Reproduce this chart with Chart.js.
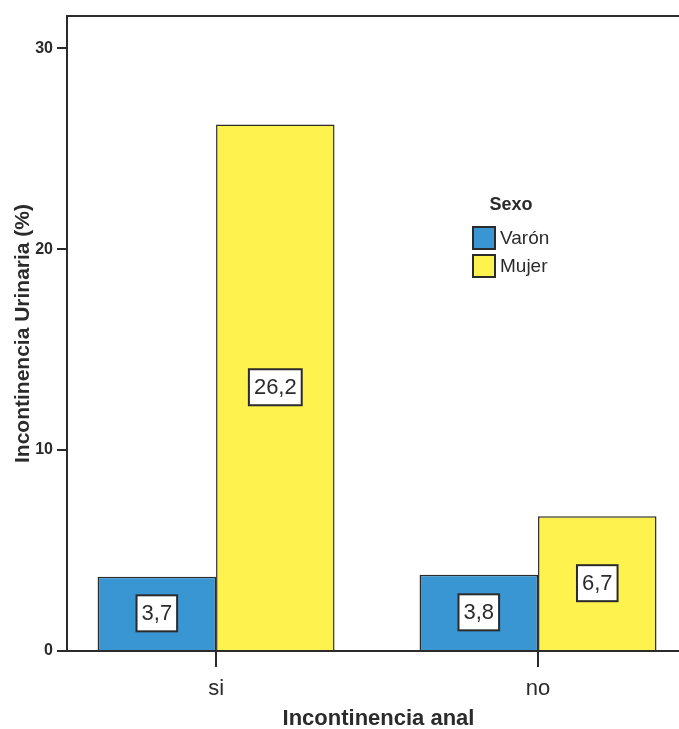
<!DOCTYPE html>
<html>
<head>
<meta charset="utf-8">
<script src="https://cdn.jsdelivr.net/npm/chart.js@4/dist/chart.umd.min.js"></script>
<style>
  html, body { margin: 0; padding: 0; background: #ffffff; overflow: hidden; }
  #wrap { position: absolute; left: 0; top: 0; width: 690px; height: 729px; }
</style>
</head>
<body>
<div id="wrap"><canvas id="c" width="690" height="729"></canvas></div>
<script>
// Incontinencia urinaria (%) por incontinencia anal y sexo
const categories = ['si', 'no'];
const seriesNames = ['Varón', 'Mujer'];
const varon = [3.7, 3.8];
const mujer = [26.2, 6.7];
const yTicks = [0, 10, 20, 30];

const INK = '#2b2b2b';
const FONT = '"Liberation Sans", Arial, sans-serif';

const toPoints = vals => vals.map((v, i) => ({ x: i + 1, y: v }));

// Boxed value labels in the middle of each bar (comma decimal)
const valueBoxes = {
  id: 'valueBoxes',
  afterDatasetsDraw(chart) {
    const ctx = chart.ctx;
    ctx.save();
    ctx.font = '22px ' + FONT;
    ctx.textAlign = 'center';
    ctx.textBaseline = 'middle';
    chart.data.datasets.forEach((ds, di) => {
      const meta = chart.getDatasetMeta(di);
      meta.data.forEach((bar, i) => {
        const txt = ds.data[i].y.toFixed(1).replace('.', ',');
        const cx = bar.x;
        const cy = (bar.y + bar.base) / 2;
        const w = ctx.measureText(txt).width + 10;
        const h = 36;
        ctx.fillStyle = '#ffffff';
        ctx.fillRect(cx - w / 2, cy - h / 2, w, h);
        ctx.lineWidth = 2;
        ctx.strokeStyle = INK;
        ctx.strokeRect(cx - w / 2, cy - h / 2, w, h);
        ctx.fillStyle = INK;
        ctx.fillText(txt, cx, cy + 1);
      });
    });
    ctx.restore();
  }
};

// Top edge of the plot frame
const frameTop = {
  id: 'frameTop',
  afterDraw(chart) {
    const { ctx, chartArea } = chart;
    ctx.save();
    ctx.strokeStyle = INK;
    ctx.lineWidth = 2;
    ctx.beginPath();
    ctx.moveTo(chartArea.left - 1, chartArea.top);
    ctx.lineTo(chartArea.right + 5, chartArea.top);
    ctx.stroke();
    ctx.restore();
  }
};

// Legend block inside the plot: title plus swatches
const sexLegend = {
  id: 'sexLegend',
  afterDraw(chart, args, opts) {
    const ctx = chart.ctx;
    ctx.save();
    ctx.fillStyle = INK;
    ctx.font = 'bold 18px ' + FONT;
    ctx.textAlign = 'center';
    ctx.textBaseline = 'middle';
    ctx.fillText(opts.title, opts.x + 38, opts.y);
    ctx.font = '19px ' + FONT;
    ctx.textAlign = 'left';
    chart.data.datasets.forEach((ds, i) => {
      const sy = opts.y + 22 + i * 28;
      ctx.fillStyle = ds.backgroundColor;
      ctx.fillRect(opts.x, sy, 22, 22);
      ctx.lineWidth = 2;
      ctx.strokeStyle = INK;
      ctx.strokeRect(opts.x, sy, 22, 22);
      ctx.fillStyle = INK;
      ctx.fillText(ds.label, opts.x + 27, sy + 12);
    });
    ctx.restore();
  }
};

new Chart(document.getElementById('c'), {
  type: 'bar',
  data: {
    datasets: [
      { label: seriesNames[0], data: toPoints(varon), backgroundColor: '#3a95d3',
        borderColor: INK, borderWidth: 1.5 },
      { label: seriesNames[1], data: toPoints(mujer), backgroundColor: '#fdf24e',
        borderColor: INK, borderWidth: 1.5 }
    ]
  },
  options: {
    responsive: false,
    animation: false,
    layout: { padding: { top: 16, right: 0, left: 0, bottom: 0 } },
    datasets: { bar: { categoryPercentage: 0.736, barPercentage: 1.0 } },
    plugins: {
      legend: { display: false },
      tooltip: { enabled: false },
      sexLegend: { title: 'Sexo', x: 473, y: 205 }
    },
    scales: {
      x: {
        type: 'linear',
        min: 0.537,
        max: 2.472,
        offset: false,
        afterFit(s) { s.height = 78; },
        afterBuildTicks(s) { s.ticks = categories.map((c, i) => ({ value: i + 1 })); },
        ticks: {
          color: INK,
          font: { family: FONT, size: 22 },
          padding: 9,
          callback: v => categories[v - 1] ?? ''
        },
        grid: { display: true, offset: false, drawOnChartArea: false, tickLength: 16, color: INK, lineWidth: 2 },
        border: { display: true, color: INK, width: 2 },
        title: {
          display: true,
          text: 'Incontinencia anal',
          color: INK,
          font: { family: FONT, size: 22, weight: 'bold' },
          padding: { top: 0, bottom: -3 }
        }
      },
      y: {
        min: 0,
        max: 31.6,
        afterFit(s) { s.width = 67; },
        afterBuildTicks(s) { s.ticks = yTicks.map(v => ({ value: v })); },
        ticks: {
          color: INK,
          font: { family: FONT, size: 16, weight: 'bold' },
          padding: 4
        },
        grid: { display: true, drawOnChartArea: false, tickLength: 10, color: INK, lineWidth: 2 },
        border: { display: true, color: INK, width: 2 },
        title: {
          display: true,
          text: 'Incontinencia Urinaria (%)',
          color: INK,
          font: { family: FONT, size: 21, weight: 'bold' },
          padding: { top: 11, bottom: 0 }
        }
      }
    }
  },
  plugins: [valueBoxes, frameTop, sexLegend]
});
</script>
</body>
</html>
